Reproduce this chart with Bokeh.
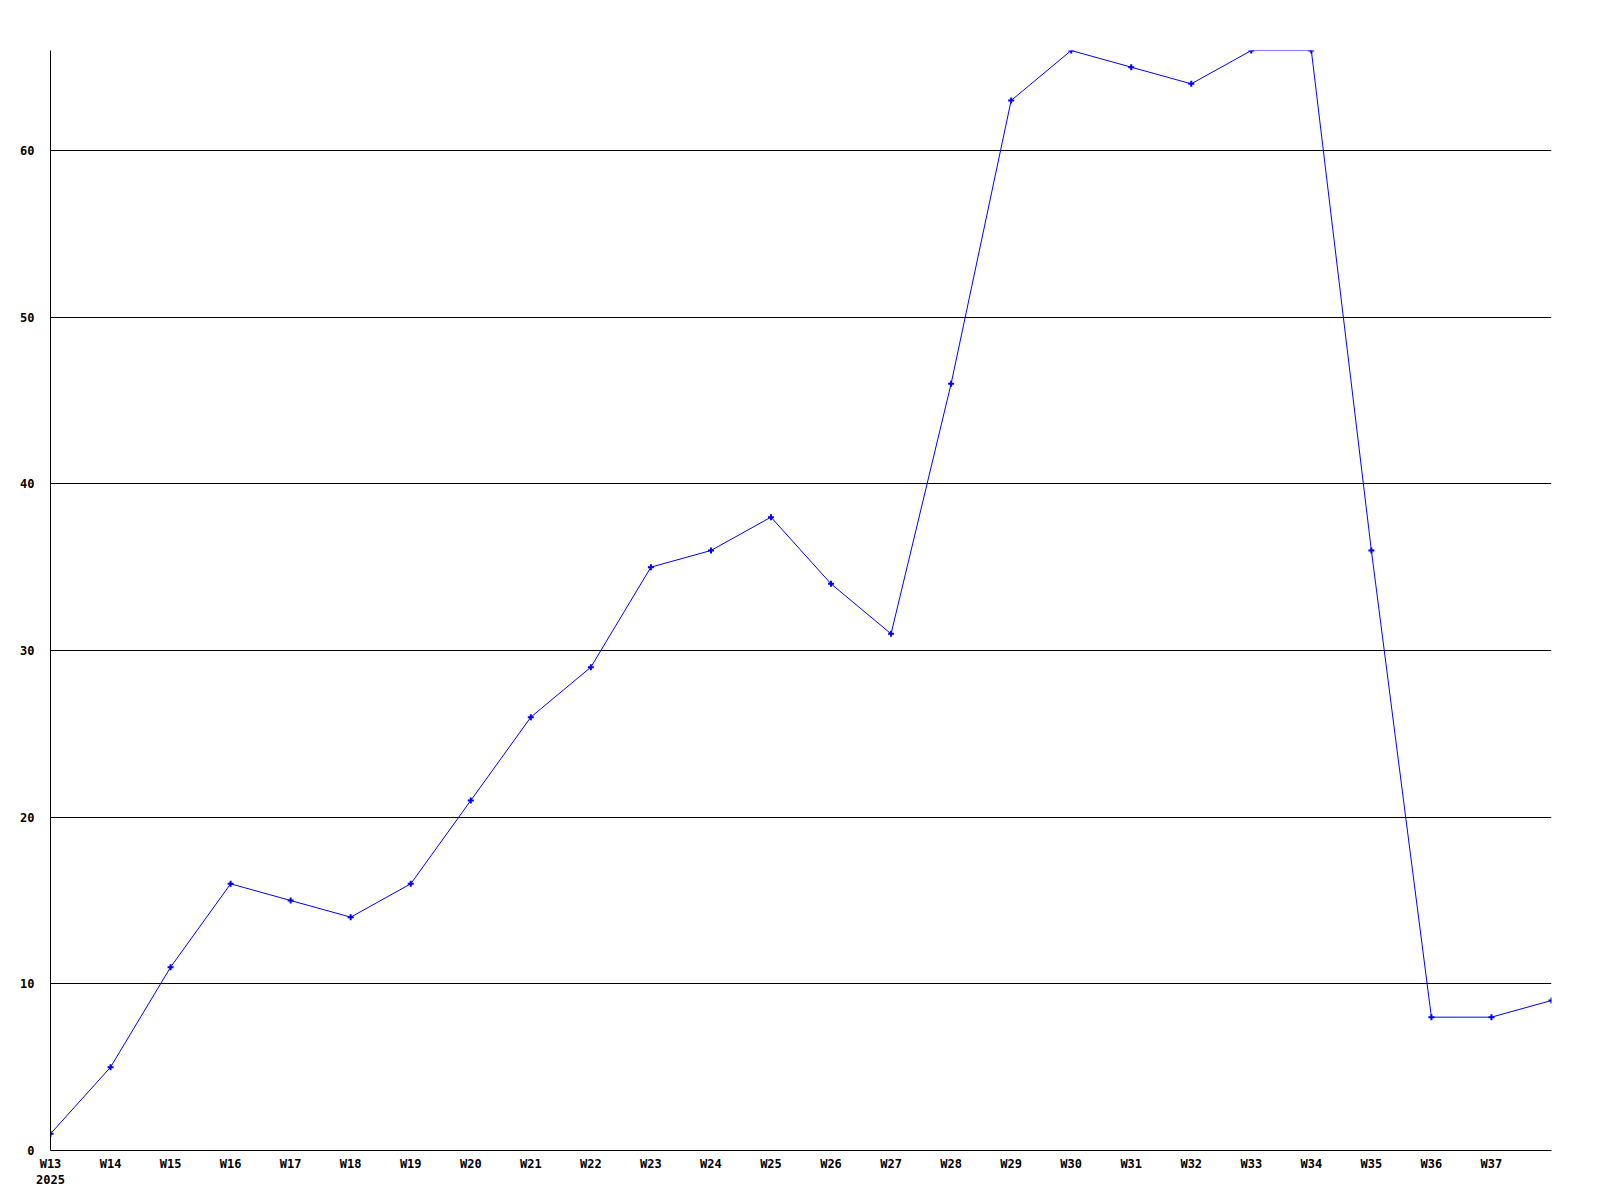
from bokeh.plotting import figure
from bokeh.models import Range1d, FixedTicker, ColumnDataSource
from bokeh.embed import file_html
from bokeh.resources import INLINE

weeks = ["W13", "W14", "W15", "W16", "W17", "W18", "W19", "W20", "W21", "W22",
         "W23", "W24", "W25", "W26", "W27", "W28", "W29", "W30", "W31", "W32",
         "W33", "W34", "W35", "W36", "W37", "W38"]
values = [1, 5, 11, 16, 15, 14, 16, 21, 26, 29,
          35, 36, 38, 34, 31, 46, 63, 66, 65, 64,
          66, 66, 36, 8, 8, 9]
year_label = "2025"
y_ticks = [0, 10, 20, 30, 40, 50, 60]

idx = list(range(len(weeks)))
src = ColumnDataSource(dict(x=idx, y=values))

FONT = "DejaVu Sans Mono"

p = figure(width=1592, height=1192, output_backend="svg", toolbar_location=None,
           x_range=Range1d(0, len(weeks) - 1), y_range=Range1d(0, max(values)),
           min_border_left=50, min_border_right=41, min_border_top=50, min_border_bottom=42)
p.outline_line_color = None
p.background_fill_color = "white"
p.border_fill_color = "white"

p.line("x", "y", source=src, line_color="#0000ff", line_width=1)
p.scatter("x", "y", source=src, marker="cross", size=6, line_color="#0000ff", line_width=2)

p.xgrid.visible = False
p.ygrid.ticker = FixedTicker(ticks=y_ticks)
p.ygrid.grid_line_color = "black"
p.ygrid.grid_line_width = 1
p.ygrid.grid_line_alpha = 1

xa = p.xaxis[0]
xa.ticker = FixedTicker(ticks=idx[:-1])
overrides = {i: w for i, w in enumerate(weeks)}
overrides[0] = weeks[0] + "\n" + year_label
xa.major_label_overrides = overrides
ya = p.yaxis[0]
ya.ticker = FixedTicker(ticks=y_ticks)

for ax in (xa, ya):
    ax.axis_line_color = "black"
    ax.axis_line_width = 1
    ax.major_tick_line_color = None
    ax.minor_tick_line_color = None
    ax.major_tick_out = 0
    ax.major_tick_in = 0
    ax.major_label_text_font = FONT
    ax.major_label_text_font_style = "bold"
    ax.major_label_text_font_size = "12px"
    ax.major_label_text_color = "black"
xa.major_label_standoff = 6
ya.major_label_standoff = 16

open("out.html", "w").write(file_html(p, INLINE))
